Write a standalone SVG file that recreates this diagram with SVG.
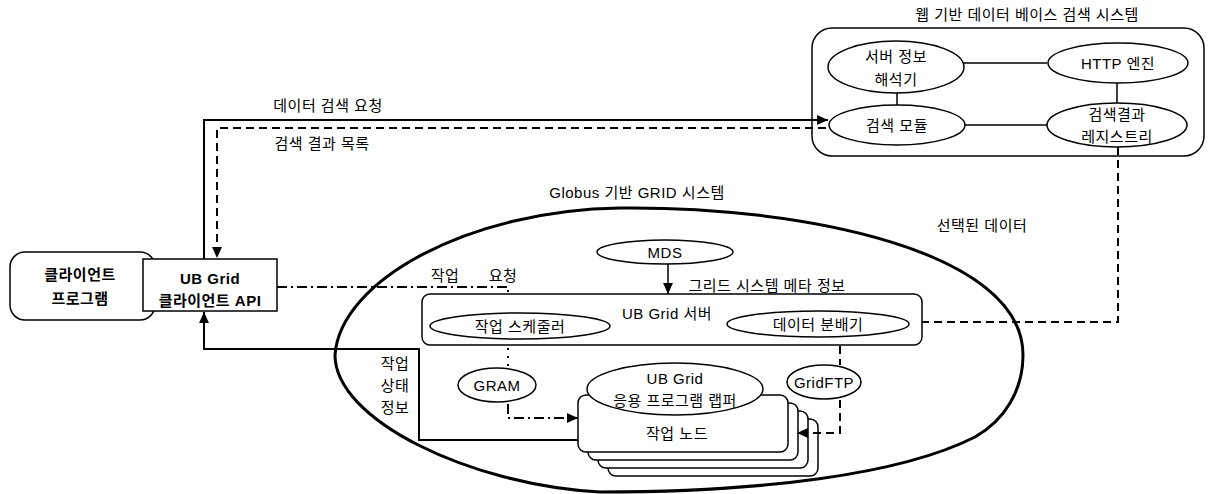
<svg xmlns="http://www.w3.org/2000/svg" width="1211" height="494" viewBox="0 0 1211 494">
<style>
text{font-family:"Liberation Sans","Noto Sans CJK KR",sans-serif;font-size:15px;letter-spacing:0.5px;fill:#000;text-anchor:middle;dominant-baseline:central}
.b{font-weight:bold}
.sh{fill:#fff;stroke:#000;stroke-width:1.5}
.ln{fill:none;stroke:#000;stroke-width:1.5}
.sol{fill:none;stroke:#000;stroke-width:2}
.dash{fill:none;stroke:#000;stroke-width:2;stroke-dasharray:8,5}
.dd{fill:none;stroke:#000;stroke-width:2;stroke-dasharray:10,4,2,4}
.dot{fill:none;stroke:#000;stroke-width:2;stroke-dasharray:2,6}
</style>
<defs>
<marker id="ah" viewBox="0 0 10 10" refX="10" refY="5" markerWidth="11" markerHeight="11" markerUnits="userSpaceOnUse" orient="auto"><path d="M0,0.5 L10,5 L0,9.5 z" fill="#000"/></marker>
</defs>

<g id="grid-system">
<path d="M335,355 C340,280 470,210 620,208 C800,206 1023,250 1023,355 C1023,390 1005,420 975,437 C900,475 760,492 600,492 C470,485 335,420 335,355 Z" fill="none" stroke="#000" stroke-width="3"/>
<text x="637" y="192">Globus  기반 GRID  시스템</text>
</g>

<g id="web-system">
<rect x="812" y="28" width="392" height="128" rx="20" class="ln" fill="#fff"/>
<text x="1027" y="14">웹 기반 데이터 베이스 검색 시스템</text>
</g>

<g id="client-program">
<rect x="10" y="252" width="145" height="68" rx="15" class="sh"/>
<text x="80" y="274" class="b">클라이언트</text>
<text x="80" y="298" class="b">프로그램</text>
</g>

<g id="client-api">
<rect x="143" y="259" width="134" height="52" class="sh"/>
<text x="210" y="278" class="b">UB Grid</text>
<text x="210" y="300" class="b">클라이언트 API</text>
</g>

<g id="server-parser">
<ellipse cx="896" cy="67" rx="68" ry="26" class="sh"/>
<text x="896" y="56">서버 정보</text>
<text x="896" y="79">해석기</text>
</g>
<g id="http-engine">
<ellipse cx="1118" cy="63" rx="70" ry="20" class="sh"/>
<text x="1118" y="63">HTTP 엔진</text>
</g>
<g id="search-module">
<ellipse cx="897" cy="125" rx="68" ry="20" class="sh"/>
<text x="897" y="125">검색 모듈</text>
</g>
<g id="result-registry">
<ellipse cx="1117" cy="125" rx="70" ry="22" class="sh"/>
<text x="1117" y="114">검색결과</text>
<text x="1117" y="136">레지스트리</text>
</g>

<g id="mds">
<ellipse cx="665" cy="252" rx="68" ry="12" class="sh"/>
<text x="665" y="252">MDS</text>
</g>

<g id="ub-grid-server">
<rect x="422" y="294" width="500" height="51" rx="8" class="ln"/>
<text x="667" y="313">UB Grid 서버</text>
</g>
<g id="scheduler">
<ellipse cx="520" cy="326" rx="90" ry="13" class="sh"/>
<text x="520" y="326">작업 스케줄러</text>
</g>
<g id="distributor">
<ellipse cx="818" cy="324" rx="91" ry="13" class="sh"/>
<text x="818" y="324">데이터 분배기</text>
</g>

<g id="gram">
<ellipse cx="497" cy="385" rx="39" ry="17" class="sh"/>
<text x="497" y="385">GRAM</text>
</g>
<g id="gridftp">
<ellipse cx="824" cy="382" rx="37" ry="17" class="sh"/>
<text x="824" y="382">GridFTP</text>
</g>

<g id="job-nodes">
<rect x="608" y="419" width="210" height="57" rx="8" class="sh"/>
<rect x="598" y="411" width="210" height="57" rx="8" class="sh"/>
<rect x="588" y="403" width="210" height="57" rx="8" class="sh"/>
<rect x="578" y="395" width="210" height="57" rx="8" class="sh"/>
<text x="677" y="433">작업 노드</text>
</g>
<g id="wrapper">
<ellipse cx="675" cy="389" rx="88" ry="26" class="sh"/>
<text x="675" y="378">UB Grid</text>
<text x="675" y="400">응용 프로그램 랩퍼</text>
</g>

<g id="connectors">
<path class="ln" d="M964,63 H1047"/>
<path class="ln" d="M897,93 V105"/>
<path class="ln" d="M1117,83 V103"/>
<path class="ln" d="M965,125 H1047"/>
<path class="sol" d="M204,259 V120 H828" marker-end="url(#ah)"/>
<path class="dash" d="M826,128 H217 V258" marker-end="url(#ah)"/>
<path class="dash" d="M1118,147 V322 H922"/>
<path class="dd" d="M277,287 H508 V294"/>
<path class="ln" d="M668,264 V294" marker-end="url(#ah)"/>
<path class="dot" d="M508,348 V368"/>
<path class="dd" d="M508,404 V418 H578" marker-end="url(#ah)"/>
<path class="dash" d="M840,346 V365"/>
<path class="dash" d="M840,400 V433 H797" marker-end="url(#ah)"/>
<path class="sol" d="M578,440 H419 V349 H204 V312" marker-end="url(#ah)"/>
</g>

<g id="labels">
<text x="328" y="105">데이터 검색 요청</text>
<text x="322" y="143">검색 결과 목록</text>
<text x="445" y="275">작업</text>
<text x="503" y="275">요청</text>
<text x="767" y="285">그리드 시스템 메타 정보</text>
<text x="982" y="225">선택된 데이터</text>
<text x="395" y="363">작업</text>
<text x="395" y="385">상태</text>
<text x="395" y="407">정보</text>
</g>
</svg>
